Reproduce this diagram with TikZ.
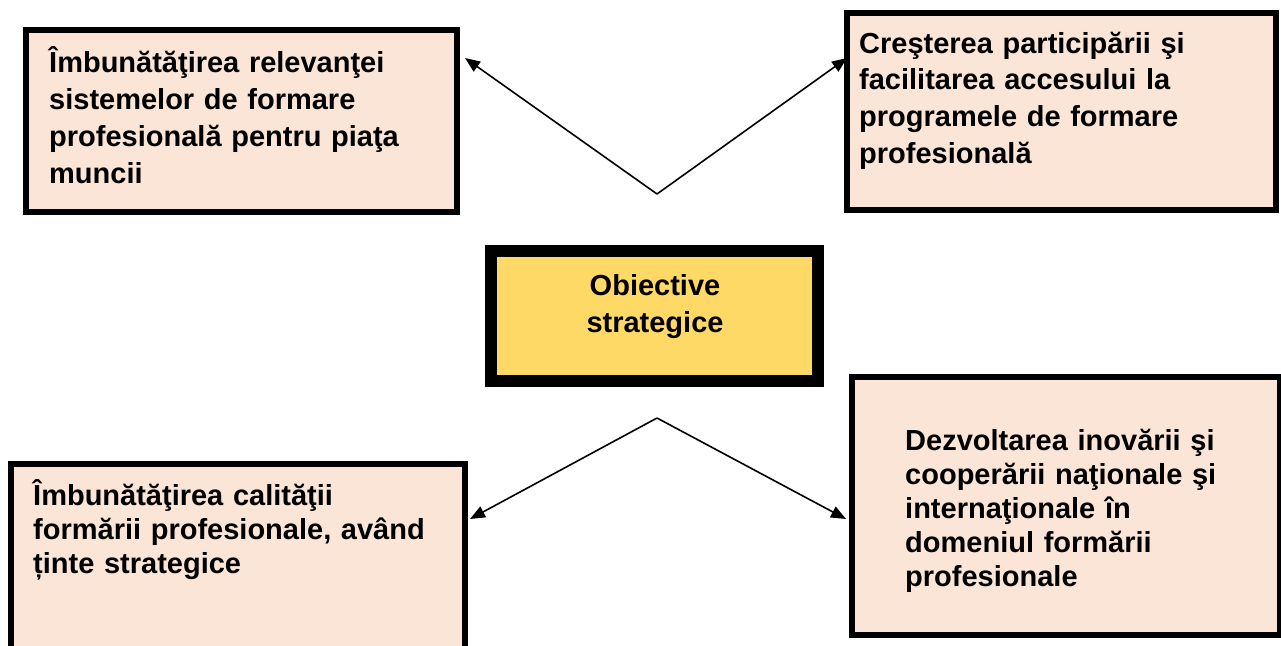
\documentclass[tikz,border=0pt]{standalone}
\usepackage{fontspec}
\setmainfont{Liberation Sans}
\usetikzlibrary{arrows.meta}
\definecolor{pinkfill}{HTML}{FBE5D6}
\definecolor{goldfill}{HTML}{FFD966}
\begin{document}
\begin{tikzpicture}[x=1pt,y=-1pt,
  objbox/.style={draw=black,line width=6pt,fill=pinkfill,rectangle,inner sep=0pt,anchor=north west},
  centbox/.style={draw=black,line width=12pt,fill=goldfill,rectangle,inner sep=0pt,anchor=north west},
  objtext/.style={anchor=base west,inner sep=0pt,align=left,text width=#1,font=\bfseries\fontsize{29}{37}\selectfont},
  arr/.style={line width=1.6pt,-{Triangle[length=15pt,width=12pt]}}]
\useasboundingbox (0,0) rectangle (1281,645);
% boxes
\node[objbox,minimum width=431pt,minimum height=182pt] (tl) at (23,27) {};
\node[objbox,minimum width=429pt,minimum height=197pt] (tr) at (844,10) {};
\node[centbox,minimum width=327pt,minimum height=130pt] (c) at (485,245) {};
\node[objbox,minimum width=454pt,minimum height=200pt] (bl) at (8,461) {};
\node[objbox,minimum width=428pt,minimum height=258pt] (br) at (849,374) {};
% texts
\node[objtext=400pt] (tlt) at (49,72) {Îmbunătăţirea relevanţei\\sistemelor de formare\\profesională pentru piaţa\\muncii};
\node[objtext=400pt,font=\bfseries\fontsize{29}{36.7}\selectfont] (trt) at (859,53) {Creşterea participării şi\\facilitarea accesului la\\programele de formare\\profesională};
\node[objtext=200pt,anchor=base,align=center] (ct) at (655,295) {Obiective\\strategice};
\node[objtext=420pt,font=\bfseries\fontsize{29}{34}\selectfont] (blt) at (33,505) {Îmbunătăţirea calităţii\\formării profesionale, având\\ținte strategice};
\node[objtext=360pt,font=\bfseries\fontsize{29}{34}\selectfont] (brt) at (905,450) {Dezvoltarea inovării şi\\cooperării naţionale şi\\internaţionale în\\domeniul formării\\profesionale};
% connectors
\coordinate (apexT) at (657,194);
\coordinate (apexB) at (657,418);
\coordinate (tipTL) at (465,58);
\coordinate (tipTR) at (847,58);
\coordinate (tipBL) at (470,519);
\coordinate (tipBR) at (846,519);
\draw[arr] (apexT) -- (tipTL);
\draw[arr] (apexT) -- (tipTR);
\draw[arr] (apexB) -- (tipBL);
\draw[arr] (apexB) -- (tipBR);
\end{tikzpicture}
\end{document}
